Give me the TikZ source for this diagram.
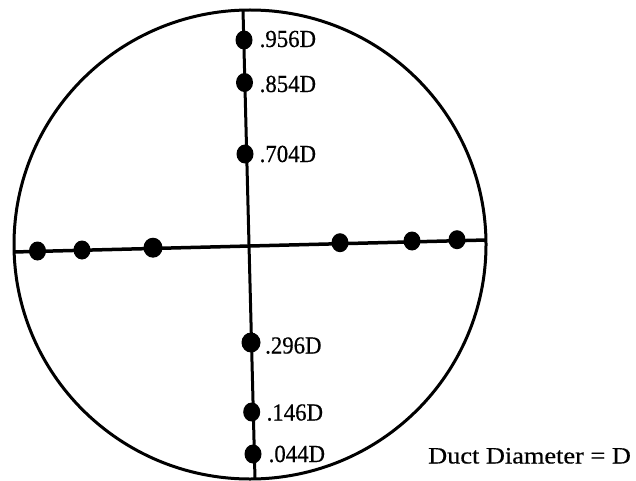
\documentclass[tikz,border=0pt]{standalone}
\usepackage{fontspec}
\setmainfont{Liberation Serif}
\newfontfamily\lblfont[FakeStretch=0.93,FakeBold=0.5]{Liberation Serif}
\newfontfamily\ductfont[FakeStretch=1.12,FakeBold=0.5]{Liberation Serif}
\usetikzlibrary{shapes.geometric}
\begin{document}
\begin{tikzpicture}[x=1pt,y=-1pt,
  dotmark/.style={ellipse,fill=black,draw=none,inner sep=0pt,minimum width=17pt,minimum height=19pt},
  bigdot/.style={dotmark,minimum width=19pt,minimum height=20pt},
  lbl/.style={anchor=base west,inner sep=0pt,font=\lblfont\fontsize{24.5}{26}\selectfont},
  axis/.style={line width=3pt}]
\useasboundingbox (0,0) rectangle (636,481);
\fill[white] (0,0) rectangle (636,481);
% duct outline
\draw[line width=3pt] (250,244.5) ellipse [x radius=236, y radius=234.5];
% end points of the traverse lines on the duct wall
\coordinate (vt) at (243,10);
\coordinate (vb) at (255,479);
\coordinate (hl) at (13.5,252);
\coordinate (hr) at (486,240);
\draw[axis] (vt) -- (vb);
\draw[axis,line width=3.5pt] (hl) -- (hr);
% vertical traverse points
\node[dotmark] (v1) at (244,40) {};
\node[dotmark] (v2) at (244.5,82.5) {};
\node[dotmark] (v3) at (245,154) {};
\node[bigdot]  (v4) at (251,342.5) {};
\node[dotmark] (v5) at (251.7,412) {};
\node[dotmark] (v6) at (253,454) {};
% horizontal traverse points
\node[dotmark] (h1) at (37.5,251) {};
\node[dotmark] (h2) at (82,250) {};
\node[bigdot]  (h3) at (153,247.7) {};
\node[dotmark] (h4) at (340,242.7) {};
\node[dotmark] (h5) at (412,241) {};
\node[dotmark] (h6) at (457,239.7) {};
% labels
\node[lbl] (l1) at (259.5,47) {.956D};
\node[lbl] (l2) at (259.5,92) {.854D};
\node[lbl] (l3) at (259.5,162) {.704D};
\node[lbl] (l4) at (265,353.5) {.296D};
\node[lbl] (l5) at (266.5,420.5) {.146D};
\node[lbl] (l6) at (268.5,462) {.044D};
\node[lbl,font=\ductfont\fontsize{23.5}{25}\selectfont] (duct) at (428,463.5) {Duct Diameter = D};
\end{tikzpicture}
\end{document}
